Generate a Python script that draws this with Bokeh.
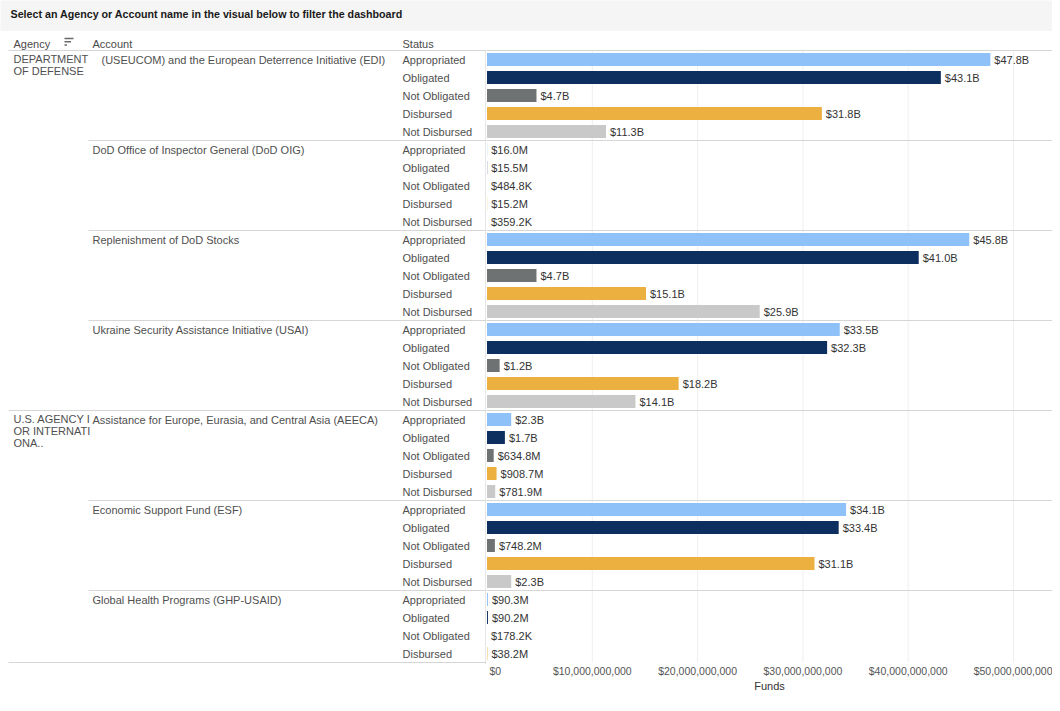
from bokeh.plotting import figure
from bokeh.models import Range1d, FixedTicker, ColumnDataSource, Span
from bokeh.layouts import column, row
from bokeh.embed import file_html
from bokeh.resources import INLINE
from bokeh.core.properties import value

# ---------------- data ----------------
title_text = "Select an Agency or Account name in the visual below to filter the dashboard"
column_headers = ["Agency", "Account", "Status"]
agency_labels = ["DEPARTMENT\nOF DEFENSE", "U.S. AGENCY I\nOR INTERNATI\nONA.."]
accounts = [
    "(USEUCOM) and the European Deterrence Initiative (EDI)",
    "DoD Office of Inspector General (DoD OIG)",
    "Replenishment of DoD Stocks",
    "Ukraine Security Assistance Initiative (USAI)",
    "Assistance for Europe, Eurasia, and Central Asia (AEECA)",
    "Economic Support Fund (ESF)",
    "Global Health Programs (GHP-USAID)",
]
account_agency = [0, 0, 0, 0, 1, 1, 1]
statuses = ["Appropriated", "Obligated", "Not Obligated", "Disbursed", "Not Disbursed"]
status_colors = ["#8dc1f7", "#0d2f5f", "#6f7272", "#ebb040", "#c9c9c9"]
edi_funds = [47.8e9, 43.1e9, 4.7e9, 31.8e9, 11.3e9]
oig_funds = [16.0e6, 15.5e6, 484.8e3, 15.2e6, 359.2e3]
replenish_funds = [45.8e9, 41.0e9, 4.7e9, 15.1e9, 25.9e9]
usai_funds = [33.5e9, 32.3e9, 1.2e9, 18.2e9, 14.1e9]
aeeca_funds = [2.3e9, 1.7e9, 634.8e6, 908.7e6, 781.9e6]
esf_funds = [34.1e9, 33.4e9, 748.2e6, 31.1e9, 2.3e9]
ghp_funds = [90.3e6, 90.2e6, 178.2e3, 38.2e6, None]
funds = [edi_funds, oig_funds, replenish_funds, usai_funds, aeeca_funds, esf_funds, ghp_funds]
axis_ticks = [0, 10e9, 20e9, 30e9, 40e9, 50e9]
axis_tick_labels = ["$0", "$10,000,000,000", "$20,000,000,000", "$30,000,000,000",
                    "$40,000,000,000", "$50,000,000,000"]
axis_title = "Funds"

# ---------------- layout constants (pixels) ----------------
FONT = value("Liberation Sans")
ROW_PX = 18.0
FIRST_ROW_Y = 59.0
HEADER_Y = 43.0
PANEL_TOP, AXIS_TOP, PANEL_BOTTOM = 31, 664, 695
LEFT, SPLIT, RIGHT = 0, 486, 1052
ZERO_X = 486.5
PX_PER_DOLLAR = 105.3 / 10e9
COL_X = [13, 92, 402]
ACCOUNT_INDENT = [9, 0, 0, 0, 0, 0, 0]
TABLE_TEXT = "#4f4f4f"
LINE = "#d6d6d6"


def row_at(px_y):
    return (px_y - FIRST_ROW_Y) / ROW_PX


def fmt(v):
    if v >= 1e9:
        return f"${v / 1e9:.1f}B"
    if v >= 1e6:
        return f"${v / 1e6:.1f}M"
    return f"${v / 1e3:.1f}K"


# ---------------- build rows ----------------
bar_y, bar_v, bar_c, bar_lbl, bar_status = [], [], [], [], []
acc_first = []
r = 0
for ai, vals in enumerate(funds):
    acc_first.append(r)
    for si, v in enumerate(vals):
        if v is None:
            continue
        bar_y.append(r)
        bar_v.append(v)
        bar_c.append(status_colors[si])
        bar_lbl.append(fmt(v))
        bar_status.append(statuses[si])
        r += 1
last_row = r - 1

agency_first = []
for gi in range(len(agency_labels)):
    agency_first.append(min(acc_first[i] for i in range(len(accounts)) if account_agency[i] == gi))

bounds_full = [-0.5]
bounds_acc = []
for i in range(1, len(accounts)):
    b = acc_first[i] - 0.5
    if account_agency[i] != account_agency[i - 1]:
        bounds_full.append(b)
    else:
        bounds_acc.append(b)

shared_y = Range1d(row_at(AXIS_TOP), row_at(PANEL_TOP))

# ---------------- header band ----------------
header = figure(width=RIGHT - LEFT, height=PANEL_TOP, x_range=Range1d(LEFT, RIGHT),
                y_range=Range1d(PANEL_TOP, 0), output_backend="svg", toolbar_location=None,
                min_border=0, x_axis_location=None, y_axis_location=None,
                background_fill_color="#f5f5f5", border_fill_color="#f5f5f5",
                outline_line_color=None)
header.grid.visible = False
header.text(x=[10], y=[13.5], text=[title_text], text_font=FONT, text_font_size="10.7px",
            text_font_style="bold", text_color="#1a1a1a", text_baseline="middle")

# ---------------- table (left) ----------------
left = figure(width=SPLIT - LEFT, height=PANEL_BOTTOM - PANEL_TOP,
              x_range=Range1d(LEFT, SPLIT), y_range=shared_y,
              output_backend="svg", toolbar_location=None,
              min_border_left=0, min_border_right=0, min_border_top=0,
              min_border_bottom=PANEL_BOTTOM - AXIS_TOP,
              x_axis_location=None, y_axis_location=None, outline_line_color=None)
left.grid.visible = False

hy = row_at(HEADER_Y)
left.text(x=COL_X, y=[hy] * 3, text=column_headers, text_font=FONT, text_font_size="11px",
          text_color="#4a4a4a", text_baseline="middle")
# sort icon
left.segment(x0=[64, 64, 64], x1=[73, 70.5, 66.5],
             y0=[row_at(38), row_at(41.3), row_at(44.6)],
             y1=[row_at(38), row_at(41.3), row_at(44.6)],
             line_color="#6a6a6a", line_width=1.5)

left.text(x=[COL_X[2]] * len(bar_y), y=bar_y, text=bar_status, text_font=FONT,
          text_font_size="11px", text_color=TABLE_TEXT, text_baseline="middle")
left.text(x=[COL_X[1] + ACCOUNT_INDENT[i] for i in range(len(accounts))], y=acc_first,
          text=accounts, text_font=FONT, text_font_size="11px", text_color=TABLE_TEXT,
          text_baseline="middle")
left.text(x=[COL_X[0]] * len(agency_labels), y=[a - 6.5 / ROW_PX for a in agency_first],
          text=agency_labels, text_font=FONT, text_font_size="11px", text_color=TABLE_TEXT,
          text_baseline="top", text_line_height=1.0)

left.segment(x0=[8] * len(bounds_full) + [COL_X[1] - 4] * len(bounds_acc) + [8],
             x1=[SPLIT] * (len(bounds_full) + len(bounds_acc) + 1),
             y0=bounds_full + bounds_acc + [last_row + 0.5],
             y1=bounds_full + bounds_acc + [last_row + 0.5],
             line_color=LINE, line_width=1)
left.segment(x0=[SPLIT - 0.5], x1=[SPLIT - 0.5], y0=[-0.5], y1=[row_at(AXIS_TOP)],
             line_color="#cfcfcf", line_width=1)

# ---------------- bars (right) ----------------
right = figure(width=RIGHT - SPLIT, height=PANEL_BOTTOM - PANEL_TOP,
               x_range=Range1d((SPLIT - ZERO_X) / PX_PER_DOLLAR, (RIGHT - ZERO_X) / PX_PER_DOLLAR),
               y_range=shared_y,
               output_backend="svg", toolbar_location=None,
               min_border_left=0, min_border_right=0, min_border_top=0,
               min_border_bottom=PANEL_BOTTOM - AXIS_TOP,
               y_axis_location=None, outline_line_color=None)
right.grid.visible = False

# grid lines
right.segment(x0=axis_ticks[1:], x1=axis_ticks[1:], y0=[-0.5] * 5, y1=[last_row + 0.5] * 5,
              line_color="#efefef", line_width=1)
for b in bounds_full + bounds_acc:
    right.add_layout(Span(location=b, dimension="width", line_color=LINE, line_width=1))

src = ColumnDataSource(dict(y=bar_y, v=bar_v, c=bar_c, lbl=bar_lbl))
right.hbar(y="y", left=0, right="v", height=13 / ROW_PX, fill_color="c", line_color=None,
           source=src)
right.text(x="v", y="y", text="lbl", source=src, x_offset=4, text_font=FONT,
           text_font_size="11px", text_color="#333333", text_baseline="middle")

ax = right.xaxis[0]
ax.ticker = FixedTicker(ticks=axis_ticks)
overrides = {t: l for t, l in zip(axis_ticks, axis_tick_labels)}
overrides[0] = "\u00a0" + axis_tick_labels[0]
ax.major_label_overrides = overrides
ax.axis_line_color = None
ax.major_tick_line_color = None
ax.minor_tick_line_color = None
ax.major_tick_out = 0
ax.major_tick_in = 0
ax.minor_tick_out = 0
ax.major_label_standoff = 0
ax.major_label_text_font = "Liberation Sans"
ax.major_label_text_font_size = "10.5px"
ax.major_label_text_color = "#555555"
ax.axis_label = axis_title
ax.axis_label_standoff = 0
ax.axis_label_text_font = "Liberation Sans"
ax.axis_label_text_font_size = "11px"
ax.axis_label_text_font_style = "normal"
ax.axis_label_text_color = "#333333"

layout = column(header, row(left, right, spacing=0), spacing=0)
open("out.html", "w").write(file_html(layout, INLINE))
